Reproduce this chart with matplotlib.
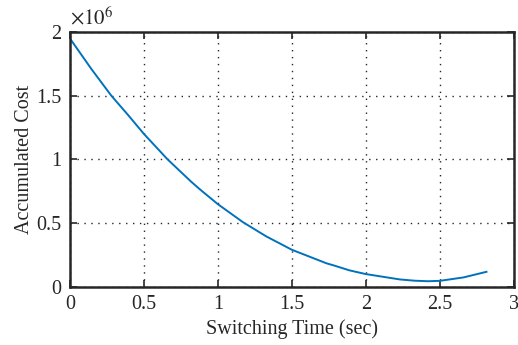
import numpy as np
import matplotlib.pyplot as plt
from matplotlib.ticker import FuncFormatter

# 字体设置（类似 Times）
plt.rcParams["font.family"] = ["Liberation Serif", "DejaVu Serif"]
plt.rcParams["mathtext.fontset"] = "stix"

# 读图得到的曲线点
switch_time = [0.0, 0.145, 0.28, 0.392, 0.5, 0.548, 0.66, 0.82, 0.877, 1.0,
               1.169, 1.327, 1.5, 1.733, 1.789, 1.89, 2.0, 2.23, 2.33, 2.42,
               2.5, 2.66, 2.815]
acc_cost = [1.95e6, 1.71e6, 1.5e6, 1.35e6, 1.20e6, 1.14e6, 1.0e6, 0.824e6,
            0.766e6, 0.648e6, 0.507e6, 0.395e6, 0.29e6, 0.184e6, 0.165e6,
            0.128e6, 0.099e6, 0.057e6, 0.047e6, 0.043e6, 0.046e6, 0.073e6,
            0.117e6]

x_ticks = [0, 0.5, 1, 1.5, 2, 2.5, 3]
y_ticks = [0, 0.5e6, 1e6, 1.5e6, 2e6]

fig = plt.figure(figsize=(5.18, 3.45), dpi=100)
ax = fig.add_axes([0.135, 0.169, 0.857, 0.738])

ax.plot(switch_time, acc_cost, color="#0072BD", linewidth=1.4)

ax.set_xlim(0, 3)
ax.set_ylim(0, 2e6)
ax.set_xticks(x_ticks)
ax.set_yticks(y_ticks)
ax.xaxis.set_major_formatter(FuncFormatter(lambda v, p: f"{v:g}"))
ax.yaxis.set_major_formatter(FuncFormatter(lambda v, p: f"{v / 1e6:g}"))

ax.grid(True, linestyle=(0, (1, 4)), color="#262626", linewidth=1.0)
ax.tick_params(direction="in", top=True, right=True, length=5, width=1.2,
               labelsize=14.5, colors="#262626", pad=6)
for s in ax.spines.values():
    s.set_linewidth(1.8)
    s.set_color("#262626")

ax.set_xlabel("Switching Time (sec)", fontsize=14.5, color="#262626", labelpad=4)
ax.set_ylabel("Accumulated Cost", fontsize=14.5, color="#262626", labelpad=2)
ax.text(0.0, 1.01, r"$\times10^{6}$", transform=ax.transAxes, fontsize=15,
        color="#262626", ha="left", va="bottom")

fig.savefig("out.png", dpi=100)
